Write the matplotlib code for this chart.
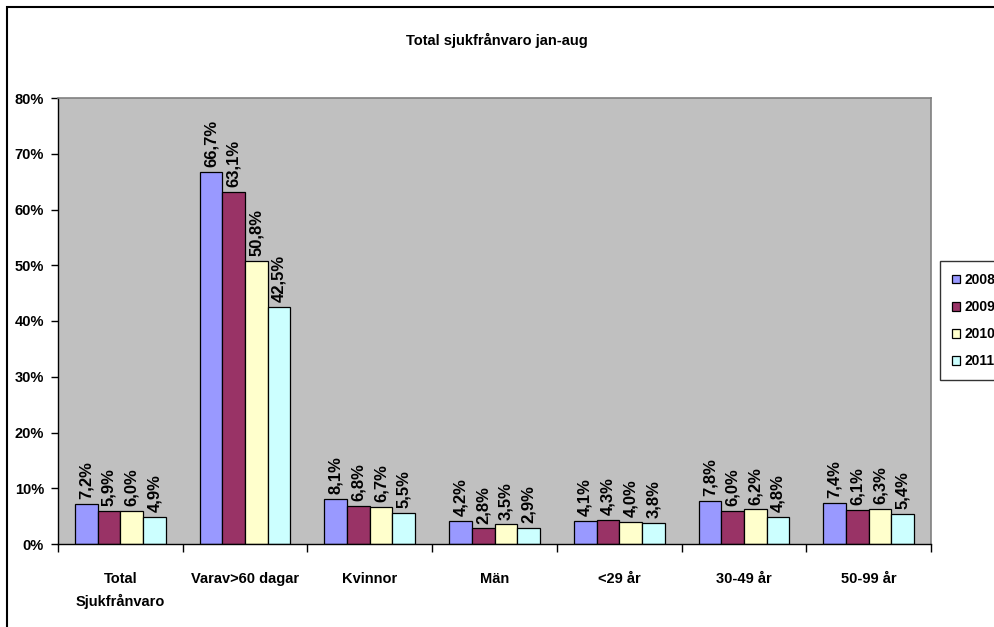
import matplotlib
matplotlib.use("Agg")
import matplotlib.pyplot as plt
import numpy as np
from matplotlib.patches import Rectangle

plt.rcParams['font.family'] = ['Liberation Sans', 'DejaVu Sans']

categories = ["Total\nSjukfrånvaro", "Varav>60 dagar", "Kvinnor", "Män", "<29 år", "30-49 år", "50-99 år"]
years = ["2008", "2009", "2010", "2011"]
v2008 = [7.2, 66.7, 8.1, 4.2, 4.1, 7.8, 7.4]
v2009 = [5.9, 63.1, 6.8, 2.8, 4.3, 6.0, 6.1]
v2010 = [6.0, 50.8, 6.7, 3.5, 4.0, 6.2, 6.3]
v2011 = [4.9, 42.5, 5.5, 2.9, 3.8, 4.8, 5.4]
series = [v2008, v2009, v2010, v2011]
colors = ["#9999FF", "#993366", "#FFFFCC", "#CCFFFF"]
yticks = [0, 10, 20, 30, 40, 50, 60, 70, 80]

W, H = 994, 627
fig = plt.figure(figsize=(W / 100, H / 100), dpi=100)
ax = fig.add_axes([58 / W, 1 - 544 / H, (931 - 58) / W, (544 - 98) / H])
ax.set_facecolor("#C0C0C0")

n = len(categories)
bw = 1 / 5.5
x = np.arange(n)
for i, (vals, c, yr) in enumerate(zip(series, colors, years)):
    pos = x + (i - 1.5) * bw
    ax.bar(pos, vals, width=bw, color=c, edgecolor="black", linewidth=0.9, label=yr)
    for p, v in zip(pos, vals):
        ax.annotate(f"{v:.1f}%".replace(".", ","), (p, v), xytext=(0, 3.5),
                    textcoords="offset points", rotation=90, ha="center", va="bottom",
                    fontsize=12, fontweight="bold")

ax.set_xlim(-0.5, n - 0.5)
ax.set_ylim(0, 80)
ax.set_yticks(yticks)
ax.set_yticklabels([f"{t}%" for t in yticks], fontsize=10.5, fontweight="bold")
ax.set_xticks(np.arange(n + 1) - 0.5, minor=False)
ax.set_xticklabels([])
ax.set_xticks(x, minor=True)
ax.set_xticklabels(categories, minor=True, fontsize=10.5, fontweight="bold", va="top",
                   linespacing=1.65)
ax.tick_params(axis="x", which="minor", length=0, pad=20)
ax.tick_params(axis="x", which="major", length=6, direction="out", width=1)
ax.tick_params(axis="y", length=5, direction="out", width=1, pad=5)

for s in ["top", "right"]:
    ax.spines[s].set_color("#808080")
    ax.spines[s].set_linewidth(1.2)
for s in ["left", "bottom"]:
    ax.spines[s].set_color("black")
    ax.spines[s].set_linewidth(1.0)

fig.text(497 / W, 1 - 40 / H, "Total sjukfrånvaro jan-aug", ha="center", va="center",
         fontsize=10.5, fontweight="bold")

leg = fig.legend(loc="upper left", bbox_to_anchor=(940 / W, 1 - 261 / H), frameon=True,
                 prop={"weight": "bold", "size": 10}, fancybox=False,
                 handlelength=0.6, handleheight=0.6, handletextpad=0.3,
                 labelspacing=0.95, borderpad=0.85, borderaxespad=0)
leg.get_frame().set_edgecolor("black")
leg.get_frame().set_linewidth(1.0)

fig.add_artist(Rectangle((7 / W, -0.05), 1.2, 1.05 - 7 / H, fill=False,
                         transform=fig.transFigure, edgecolor="black", linewidth=1.5))

fig.savefig("out.png", dpi=100)
